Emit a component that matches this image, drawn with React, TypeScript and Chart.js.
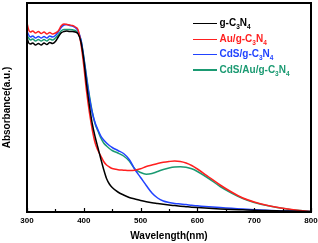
import React, { useEffect, useRef } from "react";
import { Chart, registerables } from "chart.js";

Chart.register(...registerables);

const wavelengths = [
  300, 303, 306, 310, 315, 320, 325, 330, 335, 340, 345, 350, 355, 360, 365, 370, 375, 380, 385, 390,
  395, 400, 405, 410, 415, 420, 425, 430, 435, 440, 445, 450, 460, 470, 480, 490, 500, 510, 520, 530,
  540, 550, 560, 570, 580, 590, 600, 620, 640, 660, 680, 700, 720, 740, 760, 780, 800,
];

const gC3N4 = [
  1.74, 1.69, 1.68, 1.69, 1.67, 1.685, 1.67, 1.69, 1.675, 1.695, 1.685, 1.705, 1.75, 1.79, 1.805, 1.81, 1.805, 1.805, 1.8, 1.78,
  1.7, 1.52, 1.27, 1.06, 0.88, 0.75, 0.64, 0.53, 0.425, 0.335, 0.28, 0.245, 0.2, 0.17, 0.145, 0.13, 0.115, 0.103, 0.093, 0.085,
  0.077, 0.07, 0.064, 0.058, 0.053, 0.048, 0.044, 0.037, 0.031, 0.026, 0.022, 0.018, 0.015, 0.012, 0.009, 0.007, 0.005,
];

const auGC3N4 = [
  1.89, 1.82, 1.8, 1.81, 1.79, 1.805, 1.785, 1.8, 1.78, 1.795, 1.78, 1.79, 1.81, 1.86, 1.88, 1.875, 1.87, 1.865, 1.85, 1.82,
  1.68, 1.46, 1.2, 0.99, 0.82, 0.69, 0.615, 0.56, 0.505, 0.47, 0.45, 0.435, 0.423, 0.418, 0.414, 0.418, 0.432, 0.455, 0.47, 0.485,
  0.497, 0.505, 0.51, 0.505, 0.49, 0.465, 0.43, 0.35, 0.27, 0.2, 0.14, 0.1, 0.07, 0.047, 0.03, 0.015, 0.005,
];

const cdsGC3N4 = [
  1.81, 1.77, 1.75, 1.76, 1.74, 1.755, 1.74, 1.755, 1.74, 1.76, 1.75, 1.765, 1.8, 1.845, 1.87, 1.875, 1.865, 1.86, 1.845, 1.81,
  1.72, 1.54, 1.33, 1.14, 0.99, 0.89, 0.82, 0.76, 0.72, 0.69, 0.665, 0.645, 0.615, 0.585, 0.525, 0.425, 0.345, 0.265, 0.19, 0.14,
  0.11, 0.095, 0.085, 0.08, 0.075, 0.067, 0.062, 0.052, 0.044, 0.037, 0.029, 0.022, 0.017, 0.013, 0.01, 0.007, 0.005,
];

const cdsAuGC3N4 = [
  1.77, 1.74, 1.72, 1.73, 1.71, 1.725, 1.71, 1.725, 1.71, 1.73, 1.72, 1.74, 1.77, 1.81, 1.825, 1.825, 1.825, 1.822, 1.815, 1.79,
  1.72, 1.55, 1.35, 1.16, 1.0, 0.88, 0.81, 0.74, 0.69, 0.66, 0.635, 0.615, 0.59, 0.56, 0.51, 0.43, 0.395, 0.378, 0.385, 0.405,
  0.425, 0.44, 0.45, 0.452, 0.447, 0.432, 0.405, 0.335, 0.255, 0.19, 0.135, 0.095, 0.067, 0.045, 0.028, 0.015, 0.005,
];

const xMin = 300;
const xMax = 800;
const xStep = 100;
const minorStep = 50;

const FONT = "'Liberation Sans', Arial, sans-serif";

const seriesNames = ["g-C3N4", "Au/g-C3N4", "CdS/g-C3N4", "CdS/Au/g-C3N4"];
const seriesColors = ["#000000", "#ff1f1f", "#2143ff", "#1b9a72"];
const seriesData = [gC3N4, auGC3N4, cdsGC3N4, cdsAuGC3N4];

function Formula({ text }: { text: string }) {
  // render digits after letters as subscripts
  const parts: React.ReactNode[] = [];
  let i = 0;
  for (const ch of text) {
    if (/[0-9]/.test(ch)) {
      parts.push(
        <span key={i++} style={{ fontSize: 6.5, position: "relative", top: 2.5 }}>
          {ch}
        </span>
      );
    } else {
      parts.push(<span key={i++}>{ch}</span>);
    }
  }
  return <>{parts}</>;
}

export default function App() {
  const ref = useRef<HTMLCanvasElement | null>(null);

  useEffect(() => {
    document.body.style.margin = "0";
    const canvas = ref.current;
    if (!canvas) return;

    const framePlugin = {
      id: "framePlugin",
      afterDatasetsDraw(chart: any) {
        const { ctx, chartArea } = chart;
        const xs = chart.scales.x;
        ctx.save();
        ctx.strokeStyle = "#000";
        ctx.lineWidth = 1.2;
        // inward tick marks on bottom axis
        for (let v = xMin; v <= xMax; v += minorStep) {
          const px = Math.round(xs.getPixelForValue(v)) + 0.5;
          const major = (v - xMin) % xStep === 0;
          const len = major ? 4 : 3;
          ctx.beginPath();
          ctx.moveTo(px, chartArea.bottom);
          ctx.lineTo(px, chartArea.bottom - len);
          ctx.stroke();
        }
        ctx.lineWidth = 2;
        ctx.strokeRect(chartArea.left, chartArea.top, chartArea.right - chartArea.left, chartArea.bottom - chartArea.top);
        ctx.restore();
      },
    };

    const chart = new Chart(canvas, {
      type: "line",
      data: {
        datasets: seriesNames.map((name, k) => ({
          label: name,
          data: wavelengths.map((w, i) => ({ x: w, y: seriesData[k][i] })),
          borderColor: seriesColors[k],
          backgroundColor: seriesColors[k],
          borderWidth: 1.5,
          pointRadius: 0,
          fill: false,
          cubicInterpolationMode: "monotone" as const,
        })),
      },
      options: {
        animation: false,
        responsive: false,
        maintainAspectRatio: false,
        layout: { padding: { top: 3, right: 7, left: 0, bottom: 0 } },
        plugins: {
          legend: { display: false },
          tooltip: { enabled: false },
        },
        scales: {
          x: {
            type: "linear",
            min: xMin,
            max: xMax,
            grid: { display: false, drawTicks: false },
            border: { display: false },
            ticks: {
              stepSize: xStep,
              color: "#000",
              padding: 4,
              maxRotation: 0,
              font: { family: FONT, size: 8, weight: "bold" },
            },
            title: {
              display: true,
              text: "Wavelength(nm)",
              color: "#000",
              font: { family: FONT, size: 10, weight: "bold" },
              padding: { top: 0, bottom: 1 },
            },
            afterFit: (s: any) => {
              s.height = 31;
              s.paddingLeft = 0;
              s.paddingRight = 0;
            },
          },
          y: {
            type: "linear",
            min: 0,
            max: 2.09,
            grid: { display: false, drawTicks: false },
            border: { display: false },
            ticks: { display: false },
            title: {
              display: true,
              text: "Absorbance(a.u.)",
              color: "#000",
              font: { family: FONT, size: 10, weight: "bold" },
              padding: { top: 1, bottom: 0 },
            },
            afterFit: (s: any) => {
              s.width = 27;
              s.paddingTop = 0;
              s.paddingBottom = 0;
            },
          },
        },
      },
      plugins: [framePlugin],
    });

    return () => chart.destroy();
  }, []);

  const legendTop = [23.3, 39.3, 54.3, 70];

  return (
    <div style={{ position: "relative", width: 318, height: 243, overflow: "hidden", background: "#fff" }}>
      <canvas ref={ref} width={318} height={243} style={{ display: "block", width: 318, height: 243 }} />
      {seriesNames.map((name, k) => (
        <div key={name}>
          <div
            style={{
              position: "absolute",
              left: 193,
              top: legendTop[k] - 0.75,
              width: 24,
              height: 1.5,
              background: seriesColors[k],
            }}
          />
          <div
            style={{
              position: "absolute",
              left: 219.5,
              top: legendTop[k] - 7,
              height: 14,
              lineHeight: "14px",
              fontFamily: FONT,
              fontWeight: "bold",
              fontSize: 10,
              color: seriesColors[k],
              whiteSpace: "nowrap",
            }}
          >
            <Formula text={name} />
          </div>
        </div>
      ))}
    </div>
  );
}
